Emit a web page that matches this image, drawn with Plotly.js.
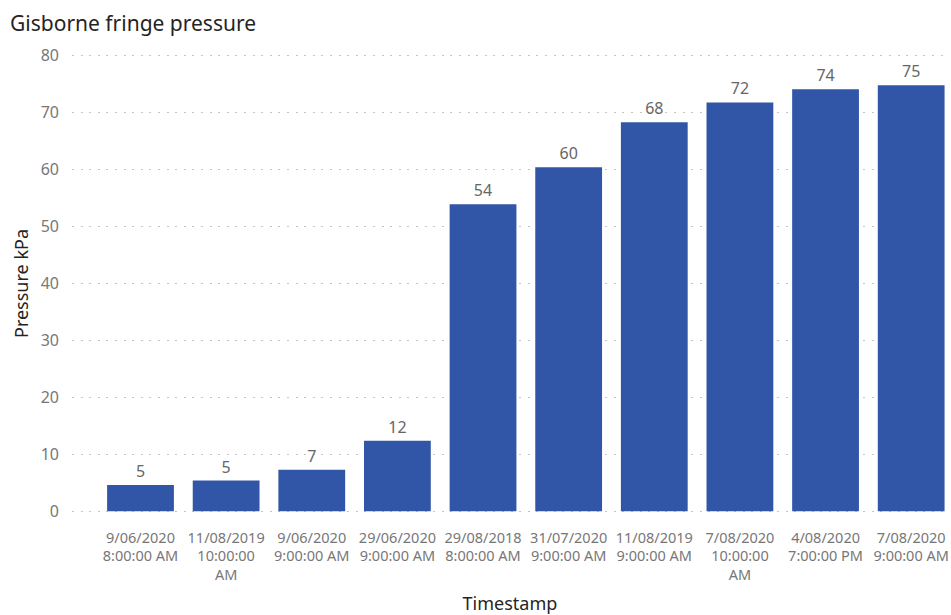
<!DOCTYPE html>
<html>
<head>
<meta charset="utf-8">
<script src="https://cdn.plot.ly/plotly-3.0.1.min.js"></script>
<style>
  html, body { margin: 0; padding: 0; background: #ffffff; }
  #chart { width: 951px; height: 615px; }
</style>
</head>
<body>
<div id="chart"></div>
<script>
// Pressure readings at the Gisborne network fringe, sorted by pressure
const timestamps = [
  "9/06/2020 8:00:00 AM",
  "11/08/2019 10:00:00 AM",
  "9/06/2020 9:00:00 AM",
  "29/06/2020 9:00:00 AM",
  "29/08/2018 8:00:00 AM",
  "31/07/2020 9:00:00 AM",
  "11/08/2019 9:00:00 AM",
  "7/08/2020 10:00:00 AM",
  "4/08/2020 7:00:00 PM",
  "7/08/2020 9:00:00 AM"
];
const pressureKPa = [4.6, 5.4, 7.3, 12.4, 53.9, 60.4, 68.3, 71.8, 74.1, 74.8];
const tickLabels = [
  "9/06/2020<br>8:00:00 AM",
  "11/08/2019<br>10:00:00<br>AM",
  "9/06/2020<br>9:00:00 AM",
  "29/06/2020<br>9:00:00 AM",
  "29/08/2018<br>8:00:00 AM",
  "31/07/2020<br>9:00:00 AM",
  "11/08/2019<br>9:00:00 AM",
  "7/08/2020<br>10:00:00<br>AM",
  "4/08/2020<br>7:00:00 PM",
  "7/08/2020<br>9:00:00 AM"
];
const yTicks = [0, 10, 20, 30, 40, 50, 60, 70, 80];

const FONT = "'Noto Sans', 'Open Sans', sans-serif";

const trace = {
  type: "bar",
  x: timestamps,
  y: pressureKPa,
  marker: { color: "#3256a7", line: { width: 0 } },
  texttemplate: "%{y:.0f}",
  textposition: "outside",
  cliponaxis: false,
  textfont: { family: FONT, size: 16, color: "#666666" },
  hoverinfo: "x+y"
};

const layout = {
  width: 951,
  height: 615,
  margin: { l: 72, r: 3, t: 50, b: 98 },
  paper_bgcolor: "#ffffff",
  plot_bgcolor: "rgba(0,0,0,0)",
  showlegend: false,
  bargap: 0.22,
  font: { family: FONT, color: "#777777" },
  title: {
    text: "Gisborne fringe pressure",
    x: 10 / 951, xanchor: "left", xref: "container",
    y: 0.962, yanchor: "middle", yref: "container",
    font: { family: FONT, size: 21, color: "#252423" }
  },
  xaxis: {
    type: "category",
    range: [-0.8, 9.43],
    tickmode: "array",
    tickvals: timestamps,
    ticktext: tickLabels,
    tickfont: { family: FONT, size: 14.5, color: "#777777" },
    ticks: "",
    ticklabelstandoff: 10,
    showgrid: false,
    zeroline: false,
    showline: false,
    title: {
      text: "Timestamp",
      standoff: 26,
      font: { family: FONT, size: 18, color: "#252423" }
    }
  },
  yaxis: {
    range: [-1, 81],
    tickmode: "array",
    tickvals: yTicks,
    tickfont: { family: FONT, size: 16, color: "#777777" },
    ticks: "",
    ticklabelstandoff: 12,
    showgrid: true,
    gridcolor: "#c4c4c4",
    griddash: "2px,6.6px",
    gridwidth: 1.5,
    zeroline: false,
    showline: false,
    layer: "below traces",
    title: {
      text: "Pressure kPa",
      standoff: 7,
      font: { family: FONT, size: 18, color: "#252423" }
    }
  }
};

Plotly.newPlot("chart", [trace], layout, { displayModeBar: false, staticPlot: true });
</script>
</body>
</html>
